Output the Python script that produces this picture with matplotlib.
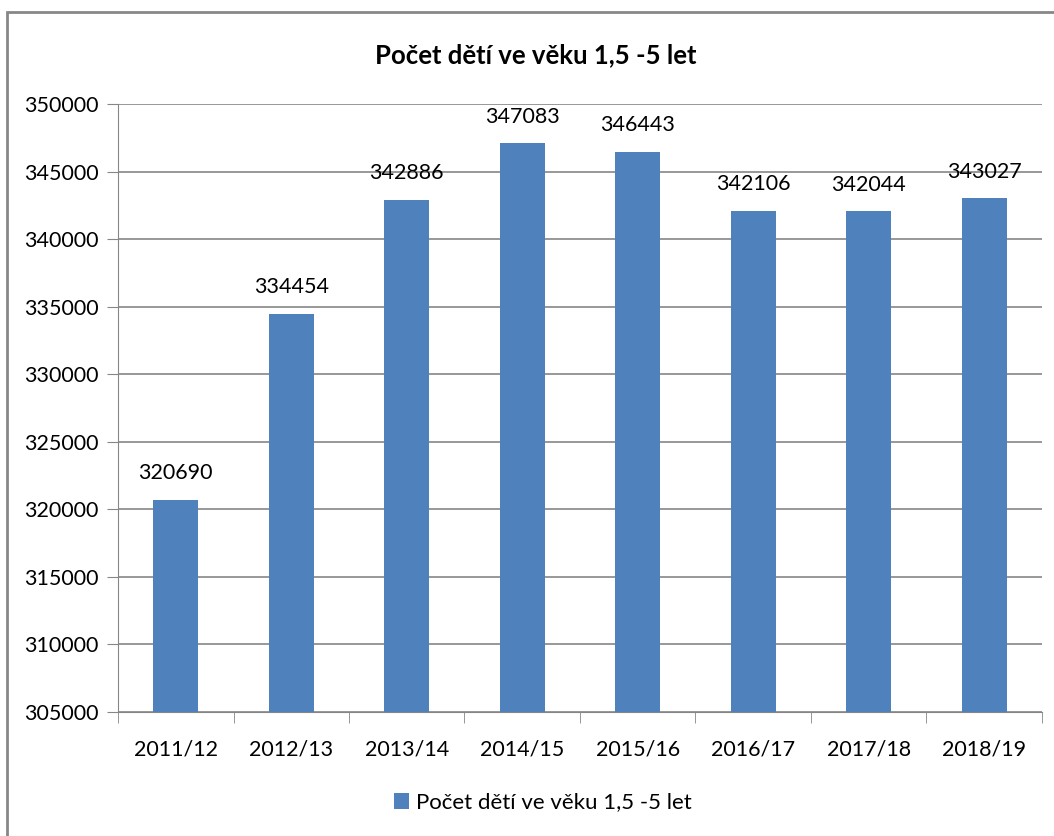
import numpy as np
import matplotlib.pyplot as plt
from matplotlib.patches import Rectangle

# data
years = ['2011/12', '2012/13', '2013/14', '2014/15', '2015/16', '2016/17', '2017/18', '2018/19']
counts = [320690, 334454, 342886, 347083, 346443, 342106, 342044, 343027]
series_name = 'Počet dětí ve věku 1,5 -5 let'

bar_color = '#4F81BD'
grid_color = '#868686'
text_color = '#000000'

plt.rcParams['font.family'] = ['Lato', 'DejaVu Sans']

fig = plt.figure(figsize=(10.54, 8.36), dpi=100)
ax = fig.add_axes([0.112, 0.1483, 0.8765, 0.7273])

x = np.arange(len(years))
bars = ax.bar(x, counts, width=0.39, color=bar_color, zorder=3)

ax.set_ylim(305000, 350000)
ax.set_xlim(-0.5, len(years) - 0.5)
ax.set_yticks(np.arange(305000, 350001, 5000))
ax.yaxis.grid(True, color=grid_color, linewidth=1.2, zorder=0)

# x labels centred, tick marks between categories
ax.set_xticks(x)
ax.set_xticklabels(years)
ax.set_xticks(np.arange(-0.5, len(years), 1), minor=True)
ax.tick_params(axis='x', which='major', length=0, pad=20, labelsize=15.5)
ax.tick_params(axis='x', which='minor', length=8, color=grid_color, direction='out')
ax.tick_params(axis='y', length=8, color=grid_color, pad=6, labelsize=15.5)

ax.spines[['right', 'top']].set_visible(False)
ax.spines['left'].set_color(grid_color)
ax.spines['bottom'].set_color(grid_color)

# data labels
ax.bar_label(bars, labels=[str(c) for c in counts], padding=12, fontsize=15.5, color=text_color)

fig.text(0.508, 0.934, series_name, ha='center', va='center', fontsize=18.5, fontweight='bold')

leg = fig.legend([bars], [series_name], loc='center', bbox_to_anchor=(0.515, 0.040),
                 frameon=False, fontsize=16, handlelength=0.7, handleheight=0.7, handletextpad=0.3)

# chart border
fig.patches.append(Rectangle((7 / 1054, -0.02), 1.05, 1 - 12 / 836 + 0.02,
                             transform=fig.transFigure, fill=False,
                             edgecolor='#878787', linewidth=2))

fig.savefig('out.png', dpi=100)
